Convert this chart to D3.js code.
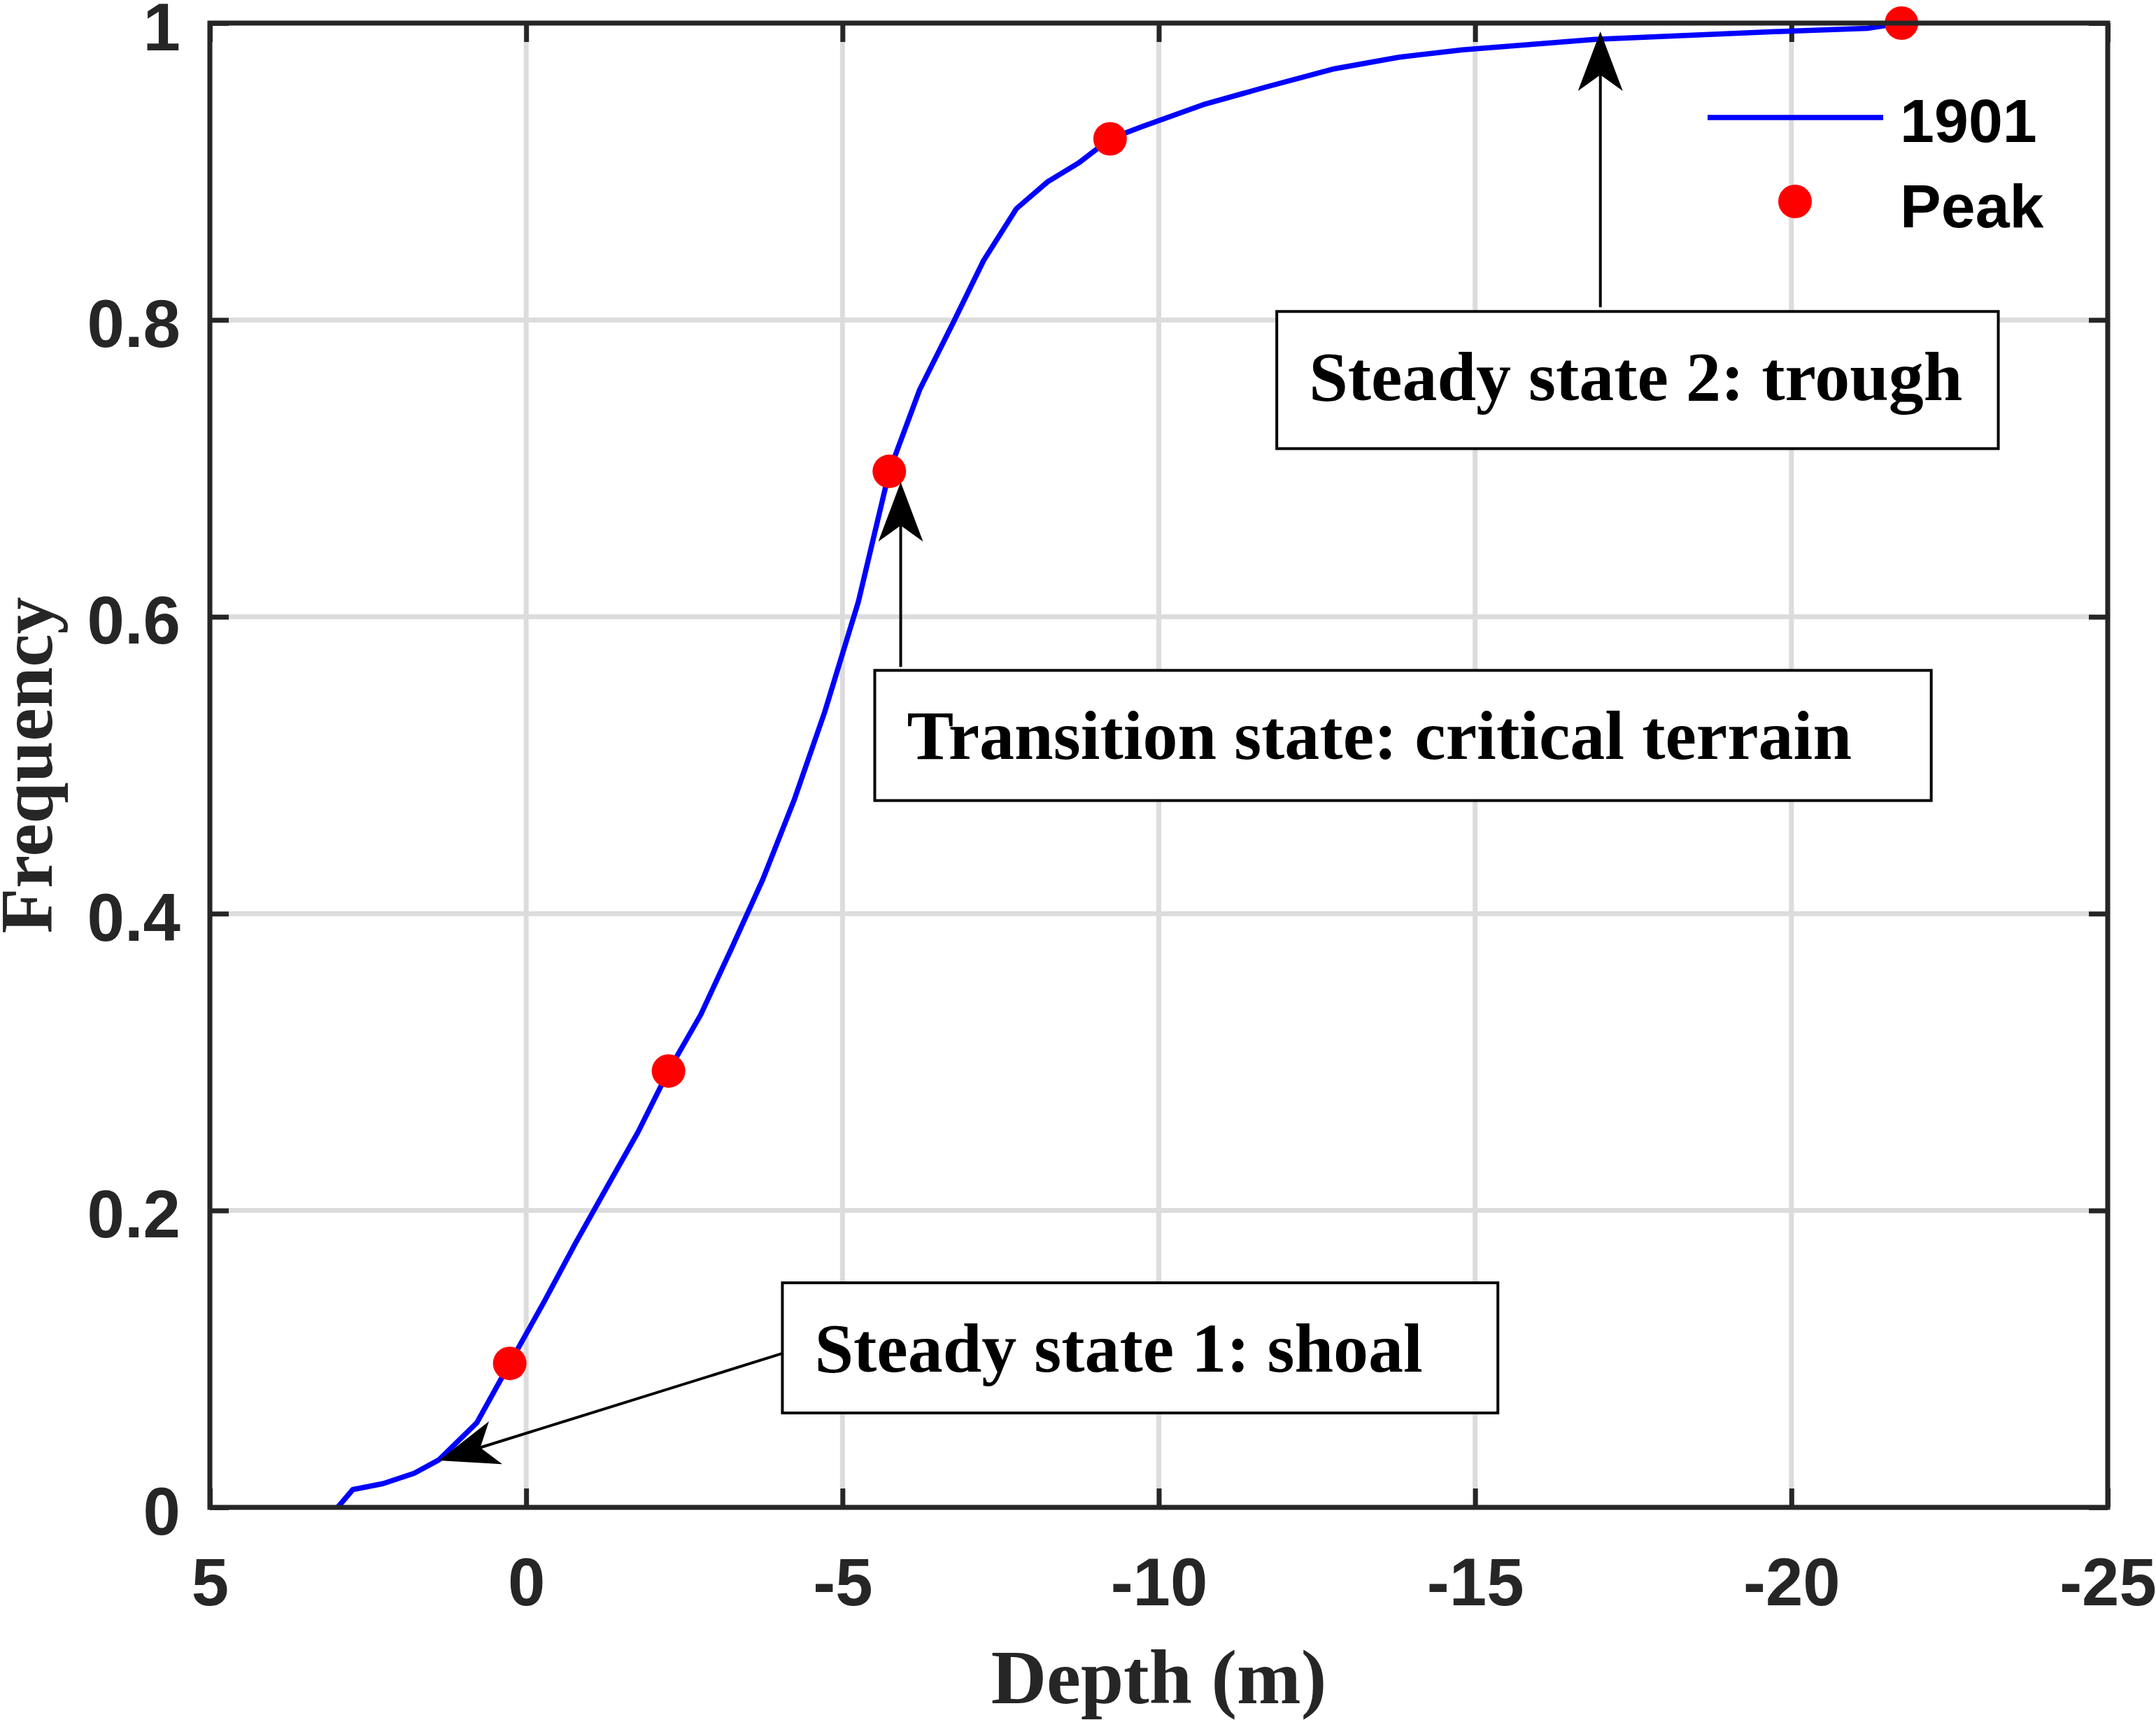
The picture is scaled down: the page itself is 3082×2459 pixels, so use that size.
<!DOCTYPE html>
<html>
<head>
<meta charset="utf-8">
<script src="https://cdn.jsdelivr.net/npm/d3@7"></script>
<style>
    body { margin: 0; background: #ffffff; }
    .tick text { font-family: "Liberation Sans", Arial, sans-serif; font-weight: bold; }
</style>
</head>
<body>
<div id="chart"></div>
<script>
// Define SVG size and plot box
var svgWidth = 3082
var svgHeight = 2459

var margin = {
    top: 33,
    right: 69,
    bottom: 304,
    left: 300
};

var width = svgWidth - margin.left - margin.right
var height = svgHeight - margin.top - margin.bottom

// cumulative frequency curve, 1901 survey
var depth = [2.98, 2.74, 2.26, 1.77, 1.38, 0.78, 0.26, -0.29, -0.78, -1.28, -1.77, -2.25,
    -2.76, -3.24, -3.74, -4.24, -4.72, -5.25, -5.74, -6.22, -6.76, -7.23, -7.75, -8.24,
    -8.74, -9.23, -9.72, -10.7, -11.7, -12.75, -13.8, -14.8, -16.9, -19.9, -21.2, -21.74];
var freq = [0, 0.012, 0.016, 0.023, 0.032, 0.057, 0.097, 0.139, 0.178, 0.216, 0.253, 0.294,
    0.332, 0.376, 0.423, 0.477, 0.536, 0.610, 0.698, 0.753, 0.799, 0.840, 0.875, 0.893,
    0.906, 0.922, 0.930, 0.945, 0.957, 0.969, 0.977, 0.982, 0.989, 0.9945, 0.9965, 1.0];

// peaks
var peakDepth = [0.26, -2.25, -5.74, -9.23, -21.74];
var peakFreq = [0.097, 0.294, 0.698, 0.922, 1.0];

// axes
var xTicks = [5, 0, -5, -10, -15, -20, -25];
var yTicks = [0, 0.2, 0.4, 0.6, 0.8, 1];
var seriesNames = ["1901", "Peak"];

// annotations: text, arrow tail / tip and box corners in data units
var noteText = ["Steady state 1: shoal", "Transition state: critical terrain", "Steady state 2: trough"];
var noteTip = [[1.38, 0.0316], [-5.92, 0.6907], [-16.98, 0.9943]];
var noteTail = [[-4.05, 0.1037], [-5.92, 0.5662], [-16.98, 0.8086]];
var noteBox = [[-4.05, 0.1513, -15.36, 0.0636], [-5.51, 0.5639, -22.21, 0.4762], [-11.865, 0.8057, -23.27, 0.7133]];

var axisColor = "#262626";
var serif = '"Liberation Serif", "Times New Roman", serif';
var sans = '"Liberation Sans", Arial, sans-serif';

var svg = d3
    .select("#chart")
    .append("svg")
    .attr("width", svgWidth)
    .attr("height", svgHeight)
    .style("display", "block");

svg.append("rect")
    .attr("width", svgWidth)
    .attr("height", svgHeight)
    .attr("fill", "#ffffff");

var chartGroup = svg.append("g")
    .attr("transform", `translate(${margin.left}, ${margin.top})`);

// scales (depth axis is reversed)
var xLinearScale = d3.scaleLinear()
    .domain([5, -25])
    .range([0, width]);

var yLinearScale = d3.scaleLinear()
    .domain([0, 1])
    .range([height, 0]);

// grid lines
chartGroup.append("g")
    .selectAll("line")
    .data(xTicks)
    .enter()
    .append("line")
    .attr("x1", d => xLinearScale(d))
    .attr("x2", d => xLinearScale(d))
    .attr("y1", 0)
    .attr("y2", height)
    .attr("stroke", "#dcdcdc")
    .attr("stroke-width", 7);

chartGroup.append("g")
    .selectAll("line")
    .data(yTicks)
    .enter()
    .append("line")
    .attr("x1", 0)
    .attr("x2", width)
    .attr("y1", d => yLinearScale(d))
    .attr("y2", d => yLinearScale(d))
    .attr("stroke", "#dcdcdc")
    .attr("stroke-width", 7);

// axes, ticks pointing inside
var fmt = d => String(d);

var bottomAxis = chartGroup.append("g")
    .attr("transform", `translate(0, ${height})`)
    .call(d3.axisBottom(xLinearScale).tickValues(xTicks).tickFormat(fmt).tickSizeInner(-27).tickSizeOuter(0));

bottomAxis.selectAll("text")
    .attr("y", 140)
    .attr("dy", 0)
    .attr("font-size", 96)
    .attr("fill", axisColor);

var leftAxis = chartGroup.append("g")
    .call(d3.axisLeft(yLinearScale).tickValues(yTicks).tickFormat(fmt).tickSizeInner(-27).tickSizeOuter(0));

leftAxis.selectAll("text")
    .attr("x", -42)
    .attr("dy", 38)
    .attr("font-size", 96)
    .attr("fill", axisColor);

chartGroup.append("g")
    .call(d3.axisTop(xLinearScale).tickValues(xTicks).tickFormat("").tickSizeInner(-27).tickSizeOuter(0));

chartGroup.append("g")
    .attr("transform", `translate(${width}, 0)`)
    .call(d3.axisRight(yLinearScale).tickValues(yTicks).tickFormat("").tickSizeInner(-27).tickSizeOuter(0));

chartGroup.selectAll(".domain").remove();
chartGroup.selectAll(".tick line")
    .attr("stroke", axisColor)
    .attr("stroke-width", 7);

// curve
var line = d3.line()
    .x(d => xLinearScale(d[0]))
    .y(d => yLinearScale(d[1]));

chartGroup.append("path")
    .datum(d3.zip(depth, freq))
    .attr("d", line)
    .attr("fill", "none")
    .attr("stroke", "#0000ff")
    .attr("stroke-width", 7.5)
    .attr("stroke-linejoin", "round");

// peak markers
chartGroup.selectAll(".peak")
    .data(d3.zip(peakDepth, peakFreq))
    .enter()
    .append("circle")
    .classed("peak", true)
    .attr("cx", d => xLinearScale(d[0]))
    .attr("cy", d => yLinearScale(d[1]))
    .attr("r", 24)
    .attr("fill", "#ff0000");

// axes box
chartGroup.append("rect")
    .attr("width", width)
    .attr("height", height)
    .attr("fill", "none")
    .attr("stroke", axisColor)
    .attr("stroke-width", 7);

// axis labels
chartGroup.append("text")
    .attr("x", width / 2)
    .attr("y", height + 280)
    .attr("text-anchor", "middle")
    .attr("font-family", serif)
    .attr("font-weight", "bold")
    .attr("font-size", 110)
    .attr("fill", axisColor)
    .text("Depth (m)");

chartGroup.append("text")
    .attr("transform", `translate(${74 - margin.left}, ${height / 2}) rotate(-90)`)
    .attr("text-anchor", "middle")
    .attr("font-family", serif)
    .attr("font-weight", "bold")
    .attr("font-size", 106)
    .attr("fill", axisColor)
    .text("Frequency");

// legend (no box)
var legend = chartGroup.append("g")
    .attr("transform", `translate(${width - 572}, 0)`);

legend.append("line")
    .attr("x1", 0)
    .attr("x2", 251)
    .attr("y1", 135)
    .attr("y2", 135)
    .attr("stroke", "#0000ff")
    .attr("stroke-width", 7.5);

legend.append("circle")
    .attr("cx", 125)
    .attr("cy", 255)
    .attr("r", 24)
    .attr("fill", "#ff0000");

legend.selectAll("text")
    .data(seriesNames)
    .enter()
    .append("text")
    .attr("x", 275)
    .attr("y", (d, i) => 170 + i * 122)
    .attr("font-family", sans)
    .attr("font-weight", "bold")
    .attr("font-size", 88)
    .attr("fill", "#000000")
    .text(d => d);

// annotations: arrow + boxed text
noteText.forEach(function (txt, i) {
    var g = chartGroup.append("g");
    var b = noteBox[i];
    var bx = xLinearScale(b[0]);
    var by = yLinearScale(b[1]);

    g.append("rect")
        .attr("x", bx)
        .attr("y", by)
        .attr("width", xLinearScale(b[2]) - bx)
        .attr("height", yLinearScale(b[3]) - by)
        .attr("fill", "#ffffff")
        .attr("stroke", "#000000")
        .attr("stroke-width", 4);

    g.append("text")
        .attr("x", bx + 46)
        .attr("y", by + 127)
        .attr("font-family", serif)
        .attr("font-weight", "bold")
        .attr("font-size", 100)
        .attr("fill", "#000000")
        .text(txt);

    var tx = xLinearScale(noteTail[i][0]), ty = yLinearScale(noteTail[i][1]);
    var hx = xLinearScale(noteTip[i][0]), hy = yLinearScale(noteTip[i][1]);
    var len = Math.hypot(hx - tx, hy - ty);
    var ux = (hx - tx) / len, uy = (hy - ty) / len;
    var nx = -uy, ny = ux;

    g.append("line")
        .attr("x1", tx)
        .attr("y1", ty)
        .attr("x2", hx - 62 * ux)
        .attr("y2", hy - 62 * uy)
        .attr("stroke", "#000000")
        .attr("stroke-width", 4);

    // vback2 style head
    var head = [
        [hx, hy],
        [hx - 85 * ux + 32 * nx, hy - 85 * uy + 32 * ny],
        [hx - 62 * ux, hy - 62 * uy],
        [hx - 85 * ux - 32 * nx, hy - 85 * uy - 32 * ny]
    ];
    g.append("path")
        .attr("d", "M" + head.join("L") + "Z")
        .attr("fill", "#000000");
});
</script>
</body>
</html>
